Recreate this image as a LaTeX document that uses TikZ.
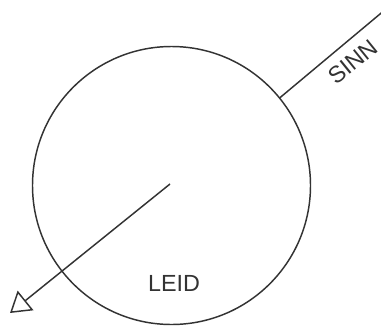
\documentclass[tikz,border=0pt]{standalone}
\usepackage{fontspec}
\setmainfont{Liberation Sans}
\usetikzlibrary{arrows.meta}
\definecolor{ink}{HTML}{333333}
\tikzset{
  stroke/.style={draw=ink, line width=1.1pt},
  lbl/.style={text=ink, font=\fontsize{17.5}{20}\selectfont, inner sep=0pt}
}
\begin{document}
\begin{tikzpicture}[x=0.75pt,y=0.75pt]
\useasboundingbox (0,0) rectangle (381,326);
\fill[white] (0,0) rectangle (381,326);
\coordinate (c) at (171.5,140.5);
\coordinate (inner) at (170,142);
\coordinate (tip) at (10,13);
\coordinate (far) at (383,314.5);
\node[stroke, circle, minimum size=278*0.75pt, inner sep=0pt] (ring) at (c) {};
\draw[stroke, -{Triangle[open, length=15pt, width=18.75pt, line width=1.1pt]}] (inner) -- (tip);
\draw[stroke] (ring.39) -- (far);
\node[lbl] (leid) at (174,43) {LEID};
\node[lbl, rotate=39] (sinn) at (353,264) {SINN};
\end{tikzpicture}
\end{document}
